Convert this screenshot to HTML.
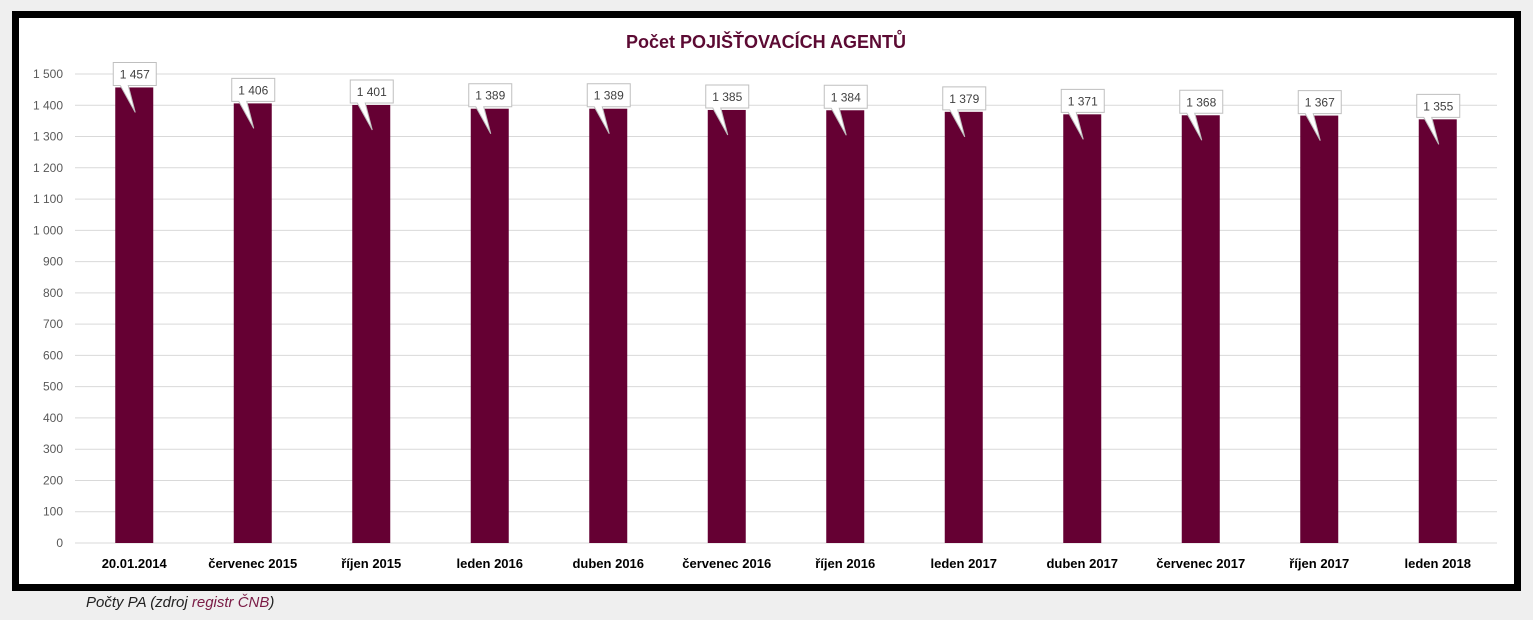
<!DOCTYPE html>
<html><head><meta charset="utf-8"><style>
html,body{margin:0;padding:0;background:#efefef;width:1533px;height:620px;overflow:hidden;font-family:"Liberation Sans",sans-serif}
#frame{position:absolute;left:12px;top:11px;width:1495px;height:566px;border:7px solid #000;background:#fff}
#cap{position:absolute;left:86px;top:594px;font-size:15px;font-style:italic;color:#222}
#cap a{color:#7a1b45;text-decoration:none}
</style></head><body>
<div id="frame"></div>
<svg id="chart" width="1533" height="620" style="position:absolute;left:0;top:0"></svg>
<div id="cap">Počty PA (zdroj <a href="#">registr ČNB</a>)</div>
<script>
const categories=["20.01.2014","červenec 2015","říjen 2015","leden 2016","duben 2016","červenec 2016","říjen 2016","leden 2017","duben 2017","červenec 2017","říjen 2017","leden 2018"];
const values=[1457,1406,1401,1389,1389,1385,1384,1379,1371,1368,1367,1355];
const valueLabels=["1 457","1 406","1 401","1 389","1 389","1 385","1 384","1 379","1 371","1 368","1 367","1 355"];
const yTicks=[0,100,200,300,400,500,600,700,800,900,1000,1100,1200,1300,1400,1500];
const yTickLabels=["0","100","200","300","400","500","600","700","800","900","1 000","1 100","1 200","1 300","1 400","1 500"];
const svg=document.getElementById('chart');const NS='http://www.w3.org/2000/svg';
const x0=75,x1=1497,y0=543,y1=74,ymax=1500;
const y=v=>y0-(v/ymax)*(y0-y1);
const band=(x1-x0)/categories.length;
const xc=i=>x0+band*(i+0.5);
function mk(t,a){const e=document.createElementNS(NS,t);for(const k in a)e.setAttribute(k,a[k]);svg.appendChild(e);return e;}
let t=mk('text',{x:766,y:48,'text-anchor':'middle','font-size':18,'font-weight':'bold',fill:'#5c0a33'});t.textContent='Počet POJIŠŤOVACÍCH AGENTŮ';


yTicks.forEach((v,i)=>{
 const l=mk('line',{x1:x0,x2:x1,y1:y(v),y2:y(v),stroke:'#d9d9d9','stroke-width':1});
 
 
 const tx=mk('text',{x:63,y:y(v)+4,'text-anchor':'end','font-size':12,fill:'#595959'});tx.textContent=yTickLabels[i];
 
 
});
const bw=38;
categories.forEach((c,i)=>{
 const cx=xc(i),top=y(values[i]);
 const r=mk('rect',{x:cx-bw/2,y:top,width:bw,height:y0-top,fill:'#650033'});
 
 
 const bx=cx-21,bt=top-25,bb=top-2;
 const p=mk('path',{d:`M${bx} ${bt}H${bx+43}V${bb}H${cx-6}L${cx+1} ${top+25}L${cx-14} ${bb}H${bx}Z`,fill:'#fff',stroke:'#bfbfbf','stroke-width':1});
 
 
 const vl=mk('text',{x:bx+21.5,y:bt+16,'text-anchor':'middle','font-size':12,fill:'#404040'});vl.textContent=valueLabels[i];
 
 
 const xl=mk('text',{x:cx,y:568,'text-anchor':'middle','font-size':13,'font-weight':'bold',fill:'#000'});xl.textContent=c;
 
 
});
</script>
</body></html>
